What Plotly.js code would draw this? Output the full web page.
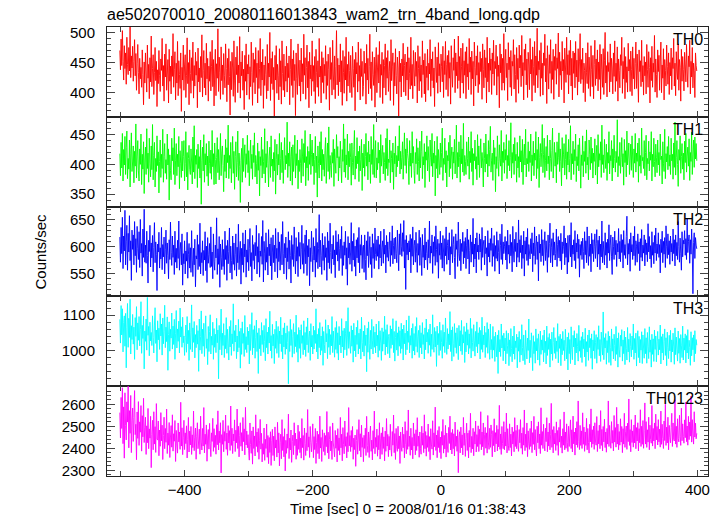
<!DOCTYPE html>
<html>
<head>
<meta charset="utf-8">
<script src="https://cdn.plot.ly/plotly-3.0.1.min.js"></script>
<style>html,body{margin:0;padding:0;background:#fff}#chart{width:724px;height:516px}</style>
</head>
<body>
<div id="chart"></div>
<script>
// ---- data (1 s bins) ----
const tStart = -501;   // time of first bin [sec]
const tStep = 1;       // bin width [sec]
const bandNames = ["TH0", "TH1", "TH2", "TH3", "TH0123"];
const chartTitle = "ae502070010_20080116013843_wam2_trn_4band_long.qdp";
const xTitle = "Time [sec] 0 = 2008/01/16 01:38:43";
const yTitle = "Counts/sec";

const th0 = [
470,438,489,445,503,452,421,478,440,466,414,492,447,430,475,436,510,425,461,441,
477,419,452,488,428,465,404,449,480,433,398,457,423,442,409,471,430,380,451,416,
466,431,401,479,424,447,390,458,418,494,410,440,463,397,433,475,420,452,377,438,
415,470,428,402,456,437,490,411,445,386,464,426,481,404,431,455,383,472,419,444,
398,461,427,498,409,438,468,388,449,416,485,395,453,430,407,466,369,442,421,479,
404,446,463,392,428,491,415,450,380,471,432,399,458,420,484,391,445,411,467,429,
452,375,474,418,441,401,460,425,496,393,437,470,408,449,396,482,423,457,386,444,
419,468,403,443,487,410,455,378,436,472,395,448,424,506,402,459,433,389,476,420,
446,397,465,429,408,481,440,385,457,413,473,427,363,452,405,467,441,394,486,421,
384,459,430,477,400,446,416,493,391,451,428,469,404,439,372,462,419,481,396,447,
431,463,389,443,410,484,433,379,466,417,455,398,475,425,449,383,470,407,440,490,
395,451,421,472,374,446,412,460,430,390,480,403,449,426,500,387,457,415,468,405,
442,358,462,421,478,399,447,428,388,473,410,453,381,486,432,404,464,393,444,419,
477,401,449,425,461,380,439,489,412,456,392,470,420,447,362,466,424,397,481,431,
411,454,386,474,418,448,398,497,429,458,389,442,479,408,452,375,467,423,446,395,
486,419,445,402,460,382,472,433,409,453,394,490,426,444,383,468,417,458,399,447,
428,478,389,452,412,464,438,371,475,422,450,396,487,431,405,461,390,443,503,413,
457,395,446,418,481,401,453,379,470,433,399,460,421,492,386,447,411,468,437,400,
462,426,392,477,440,409,455,370,467,431,450,401,484,419,445,388,473,427,452,394,
410,469,432,449,381,480,421,457,398,443,497,407,451,387,468,430,412,459,376,446,
475,400,441,463,416,485,392,447,429,467,382,455,408,445,481,396,458,424,470,402,
435,452,387,488,420,444,466,379,450,411,473,429,398,459,441,360,469,418,449,393,
456,428,482,401,445,464,395,451,421,476,388,458,432,406,492,412,447,390,470,436,
411,467,427,452,383,478,440,403,460,419,446,392,486,430,454,398,465,385,444,425,
472,404,449,431,488,394,456,420,468,408,441,377,476,446,417,459,399,483,428,448,
401,464,443,418,477,392,453,430,485,405,447,462,394,470,424,450,381,478,436,409,
458,437,489,400,466,428,451,407,494,420,460,391,474,443,416,482,399,453,429,468,
390,476,426,448,405,490,434,459,397,469,423,452,378,484,442,411,461,429,478,400,
450,414,468,435,457,389,481,439,408,471,425,458,383,492,418,449,401,474,437,456,
397,466,431,487,412,452,440,479,396,460,427,446,375,481,433,464,404,457,416,498,
404,451,472,425,449,387,483,438,459,409,470,395,452,444,488,406,463,430,384,475,
422,457,399,479,441,462,410,495,428,450,388,472,437,481,413,456,392,467,446,405,
490,431,455,386,476,443,412,485,400,461,429,507,408,452,438,470,394,483,424,449,
396,466,445,497,418,457,382,478,441,406,463,432,488,399,452,422,472,389,460,437,
481,414,458,440,499,393,467,429,452,405,485,436,455,383,474,446,417,492,430,463,
398,470,429,487,411,457,388,469,432,466,408,485,426,454,396,473,418,451,498,415,
455,422,474,400,449,437,385,466,433,415,483,407,459,431,394,478,439,410,462,390,
447,487,412,456,423,471,403,451,422,480,389,464,438,409,473,397,454,500,416,445,
393,468,435,450,401,481,418,457,441,398,466,427,486,402,449,419,476,386,456,437,
408,463,445,492,399,452,423,475,390,460,417,443,401,482,436,455,402,469,439,395,
476,423,457,406,448,484,407,464,431,384,471,435,453,410,487,418,445,396,460,428,
451,398,480,438,409,468,442,383,458,420,477,409,449,434,495,401,456,430,392,471,
435,462,404,451,484,400,446,424,473,388,455,437,411,479,443,414,466,397,450,428,
474,405,458,440,490,411,449,395,468,436,422,481,404,455,442,386,472,419,460,438,
403,467,446,418,480,436,409,461,443,487,398,452,426,475,408,449,437,392,466,445,
436];

const th1 = [
418,381,437,394,452,372,425,399,447,383,428,456,376,410,392,441,362,419,453,388,
404,431,369,422,397,468,377,414,440,389,372,426,400,451,366,417,392,438,351,409,
429,383,460,393,419,370,444,402,379,431,391,467,374,415,437,362,410,388,448,398,
421,352,405,441,378,417,393,459,370,413,435,385,408,375,451,399,426,340,416,390,
374,444,406,428,383,461,366,407,435,381,417,396,447,359,423,402,378,439,389,413,
440,372,401,455,379,420,357,410,432,392,383,426,404,367,446,387,465,376,415,400,
425,361,434,393,413,377,441,333,407,429,389,450,370,418,399,435,380,414,364,439,
402,385,424,375,457,396,418,366,436,408,367,412,445,386,425,374,406,452,381,419,
431,398,354,416,388,442,377,428,403,466,376,415,393,437,369,409,447,385,422,358,
413,438,379,403,456,373,419,397,336,407,427,370,444,388,414,433,378,418,400,449,
386,423,364,407,441,393,417,375,432,403,453,379,415,401,367,436,390,422,347,413,
398,446,377,425,405,384,460,369,418,395,439,402,362,414,429,378,448,397,409,371,
420,389,442,350,408,434,382,417,399,452,374,410,437,386,424,368,406,445,391,415,
401,471,378,419,397,438,372,413,429,365,433,388,409,449,377,418,398,441,359,407,
388,425,402,369,443,414,380,435,403,457,364,413,394,430,373,422,400,451,383,417,
441,397,419,366,408,447,386,414,345,431,402,377,438,399,455,372,425,391,417,380,
423,445,368,409,436,388,463,375,415,398,378,420,402,442,363,426,404,385,450,411,
430,372,413,394,439,400,369,425,405,468,387,443,378,416,399,451,374,422,396,435,
411,365,436,403,382,425,457,375,414,393,445,401,422,371,431,389,408,442,356,419,
394,434,380,413,452,397,420,374,439,404,417,368,447,400,425,383,467,378,414,440,
377,411,391,437,402,424,369,450,397,416,432,384,420,403,373,444,393,460,381,409,
403,441,369,423,410,387,436,358,419,401,447,379,415,396,431,406,465,384,422,392,
412,438,375,416,453,398,426,385,444,418,407,366,440,397,419,378,455,402,430,390,
368,420,401,443,383,428,405,372,439,394,422,456,376,413,399,435,361,421,407,448,
389,430,406,371,441,412,397,452,379,419,402,439,347,415,393,447,377,425,404,383,
436,395,420,461,373,410,400,444,386,423,362,415,406,437,379,449,393,414,429,375,
421,402,442,384,409,466,377,420,396,438,411,370,449,401,426,387,469,381,415,405,
383,438,410,397,446,375,422,403,455,388,427,365,418,406,441,392,413,374,450,399,
431,378,414,443,394,420,404,362,436,410,387,451,401,417,379,440,397,425,464,387,
407,419,373,441,400,428,354,413,393,448,405,380,433,410,397,457,372,422,403,437,
385,425,407,450,376,415,398,440,389,412,470,377,420,402,434,383,445,406,417,370,
437,394,413,378,448,404,423,387,442,366,414,434,399,459,379,410,401,438,388,422,
403,451,372,416,398,439,381,419,407,455,376,425,393,446,361,412,435,396,420,467,
386,417,444,378,407,430,389,449,401,414,374,441,410,388,423,461,377,404,437,397,
420,369,438,400,411,453,388,426,405,364,445,394,416,435,382,408,450,375,421,399,
442,387,410,465,374,418,401,439,383,425,406,451,371,413,398,433,389,444,409,360,
416,398,448,379,422,405,439,385,458,399,412,374,441,417,391,446,402,427,377,419,
405,443,382,414,432,367,450,396,418,407,438,378,466,400,416,386,442,409,393,434,
373,420,402,455,384,415,406,440,372,426,394,449,410,387,422,403,475,379,413,398,
437,385,411,445,396,418,365,442,403,423,379,456,399,414,436,383,407,434,390,448,
409,378,426,402,452,387,419,405,436,370,444,397,415,385,461,406,412,393,440,381,
420,449,374,410,401,439,389,421,407,455,372,417,396,444,405,379,434,412,386,441,
399,420,381,451,408,414,367,438,402,388,459,376,418,404,430,391,447,397,416,383,
444,406,417,375,436,395,471,382,411,440,400,363,425,407,448,385,413,435,392,419,
374,439,403,452,387,414,429,397,443,373,420,405,454,383,416,441,395,446,409,435,
406];

const th2 = [
618,571,636,587,655,559,620,592,668,566,609,640,556,625,590,658,574,611,537,631,
595,622,566,647,583,615,552,638,597,576,628,561,651,588,606,545,633,580,670,571,
603,569,629,584,532,612,591,640,562,607,579,621,553,598,645,570,609,586,518,605,
590,627,560,598,577,636,557,604,581,618,549,594,631,569,607,584,540,613,576,646,
589,565,620,580,603,548,629,571,597,560,612,578,648,556,594,608,566,624,528,587,
568,611,549,592,573,627,541,586,606,560,598,552,630,575,544,597,566,614,525,583,
577,622,557,604,563,644,549,589,570,611,546,593,575,628,555,601,533,617,569,585,
606,561,637,563,590,540,624,573,556,603,579,654,548,596,567,619,524,605,580,557,
613,563,595,548,629,576,602,537,612,568,591,635,551,601,574,539,620,567,607,556,
586,624,545,599,570,642,557,590,610,530,597,566,626,552,605,581,631,543,594,571,
614,555,596,634,563,589,536,621,574,604,558,608,583,640,549,600,571,625,543,592,
582,619,567,649,534,610,588,556,626,571,599,547,632,583,605,564,617,538,590,622,
570,603,553,634,578,597,542,627,572,609,556,592,623,566,647,588,549,606,579,618,
539,598,572,628,558,612,584,532,621,576,604,563,637,586,549,617,573,600,544,627,
582,608,558,594,640,567,606,550,590,622,568,631,546,602,581,614,527,598,572,629,
586,553,617,575,601,543,634,571,608,559,596,660,562,612,584,548,625,574,603,556,
619,580,598,537,627,570,611,559,644,589,550,605,577,621,566,594,542,630,585,609,
573,623,555,597,614,578,638,546,602,565,609,584,629,558,598,528,619,579,607,567,
590,645,554,610,575,625,563,601,545,613,579,617,570,636,551,604,584,622,559,599,
603,552,622,576,538,611,583,628,561,588,619,567,599,542,624,578,606,559,635,585,
574,613,582,620,558,604,579,629,564,598,611,569,633,586,603,551,621,580,609,573,
595,627,563,611,584,639,568,602,616,577,618,587,570,631,592,555,624,585,643,601,
582,626,591,649,560,613,520,621,585,607,575,611,590,623,551,615,582,637,566,602,
612,571,627,588,552,606,584,631,565,617,590,546,623,580,603,560,635,575,609,587,
557,613,579,648,569,601,588,622,550,609,582,619,565,639,595,571,614,541,606,584,
629,576,607,560,621,590,554,615,583,637,567,602,613,575,626,547,600,586,632,570,
604,619,580,540,624,595,611,563,646,587,574,614,555,606,591,627,568,610,579,617,
559,603,633,577,613,549,593,622,571,609,586,653,562,605,577,616,551,626,590,603,
576,624,590,614,556,636,580,605,612,566,620,587,598,545,630,581,607,571,615,593,
635,563,606,582,621,554,602,578,628,573,612,589,549,624,602,576,642,567,609,587,
601,619,575,610,558,631,586,603,569,623,583,608,553,638,592,571,614,591,627,562,
607,580,650,571,613,589,621,559,603,578,629,545,611,586,618,574,634,565,604,590,
577,615,587,626,553,607,583,637,567,601,620,576,609,536,623,588,605,572,632,583,
613,565,603,628,574,611,588,552,622,580,606,644,570,598,615,562,626,584,609,575,
587,633,563,604,619,579,612,573,625,557,609,587,601,639,566,616,580,607,549,621,
571,605,622,581,645,562,603,586,613,574,630,559,607,590,623,578,614,543,604,584,
610,576,616,591,559,628,585,611,570,637,590,565,620,582,605,553,625,587,613,572,
601,624,578,606,632,562,612,586,620,557,605,581,648,570,610,590,566,626,584,608,
560,614,588,641,574,603,622,581,548,618,600,576,629,585,612,563,606,590,634,577,
610,572,623,589,613,560,630,584,604,578,619,657,566,606,586,614,554,626,590,604,
576,620,583,638,565,611,601,571,624,587,609,555,615,580,632,573,603,588,622,564,
613,585,607,572,643,590,619,577,602,561,628,584,608,568,621,588,635,574,605,587,
626,580,604,551,614,589,629,570,610,586,617,561,639,601,578,624,585,611,567,620,
590,606,573,633,587,613,564,622,583,608,576,647,600,571,616,588,556,628,581,612,
605,630,584,615,576,652,589,610,622,569,613,586,633,590,512,608,626,578,617,603,
596];

const th3 = [
1088,1021,1127,1044,1118,996,1079,1098,1012,1105,951,1064,1133,1009,1091,1037,1145,990,1070,1031,
1102,1018,1066,975,1093,1040,1124,1002,1078,1029,1096,1013,1059,1138,992,1071,1034,1097,948,1055,
1026,1089,1001,1150,1043,1068,985,1080,1027,1051,1014,1098,1036,993,1072,1121,1020,1058,968,1084,
1030,1063,1003,1104,1041,1075,987,1092,1019,1053,1128,1008,1066,1025,1095,944,1045,1081,998,1060,
1035,1106,1004,1069,1017,1088,975,1049,1113,1007,1061,1026,1083,993,1120,1038,1067,1009,1094,1022,
1041,986,1037,1072,995,1096,1019,1057,972,1078,1003,1050,1129,996,1064,1023,1082,979,1045,1008,
1071,1018,1056,941,1089,1001,1039,1112,991,1060,1012,1077,983,1047,1098,1006,1033,960,1068,997,
1053,1101,990,1040,1015,1080,975,1062,1009,1046,994,1091,1022,1058,920,1071,1002,1038,1117,987,
1049,1014,1076,980,1043,1005,1093,992,1060,1021,973,1068,1010,1085,986,1047,1019,1132,998,1056,
1024,1072,977,1041,996,1088,1008,1054,950,1063,989,1081,1020,1048,983,1099,1003,1039,994,1066,
1016,1055,962,1074,1000,1044,1107,988,1059,1007,1070,978,1036,1086,997,1050,935,1063,1005,1043,
985,1079,1017,1057,995,1071,1025,971,1090,1008,1052,990,1066,1021,1111,999,1042,978,1074,1013,
1046,963,1060,1006,1083,992,1038,1068,980,1055,1019,1094,997,1044,976,1064,1010,1078,989,1049,
1004,1070,1023,906,1054,997,1088,1014,1059,981,1040,1076,991,1052,1011,1100,995,1045,967,1065,
1006,1058,978,1073,1020,1042,988,1084,1002,1051,983,1067,1016,1092,994,1039,1055,972,1076,1010,
1043,990,1069,1004,1057,1020,1118,996,1046,976,1062,1008,1079,987,1041,1000,1067,958,1054,1017,
993,1087,1024,1048,977,1072,1009,1060,988,1045,1013,1096,994,1055,1021,981,1065,1003,1082,992,
1050,973,1068,1016,1041,993,1090,1010,1056,979,1063,1002,1047,1083,986,1038,1121,1006,1053,1018,
992,1070,1012,1058,967,1077,999,1043,982,1066,1017,1085,990,1049,1005,1061,976,1094,1023,996,
1055,984,1071,1014,1044,940,1063,995,1081,1019,975,1057,1004,1088,1027,990,1068,1009,1052,993,
1075,1013,1043,981,1083,1000,1056,1021,972,1064,998,1053,1018,1097,987,1059,1010,1073,991,1040,
1046,979,1070,1006,1061,1016,1090,994,1054,970,1036,1084,1001,1050,985,1067,1012,1056,992,1077,
1005,1060,973,1072,1019,1049,988,1086,1002,1055,1023,1098,993,1042,1015,1063,978,1076,999,1048,
987,1068,1011,1093,995,1040,1057,980,1071,1008,1050,990,1079,1017,1045,976,1064,1002,1089,1024,
1051,992,1060,1015,1075,983,1046,1003,1101,1021,995,1065,1010,1054,955,1069,1016,1048,986,1080,
1000,1057,1022,978,1073,1012,1052,994,1092,1025,989,1062,1004,1047,1016,1110,997,1058,970,1067,
1019,983,1076,1008,1050,992,1064,1024,974,1071,1013,1056,998,1085,988,1045,1021,1068,966,1053,
996,1078,1015,1059,990,1047,1006,1091,979,1062,1023,998,1073,1027,984,1054,1011,1081,993,1050,
1018,1065,976,1057,1003,1094,995,1044,1016,1069,980,1051,1009,1079,992,1061,1021,975,1075,1002,
1031,978,1068,1001,1040,969,1052,1010,982,1044,935,1057,996,1031,983,1075,1007,1042,971,1049,
999,1035,962,1056,991,1014,1049,957,1030,983,1062,1005,968,1041,990,1069,975,1027,1008,1046,
951,1038,998,1054,967,1031,987,1073,1009,971,1044,993,960,1057,1013,976,1035,1000,1089,965,
1029,980,1050,1004,943,1042,991,1025,964,1061,999,1034,973,1047,1010,958,1055,989,1030,1001,
1043,968,1058,994,1026,962,1069,986,1037,1003,1048,953,1032,990,1052,972,1023,1065,992,1036,
977,1027,997,1076,965,1040,1006,1046,957,1033,988,1054,1000,1029,971,1060,1011,976,1038,945,
1050,991,1031,963,1067,1002,974,1043,1010,1056,959,1035,993,1048,1012,970,1071,998,1028,980,
1039,966,1052,1005,1032,982,1063,955,1025,996,1044,972,1058,1008,1034,978,1047,947,1030,999,
1056,977,1022,1045,964,1037,1003,1070,985,1031,969,1052,1013,987,1109,974,1036,1007,1048,961,
1028,994,1054,966,1041,1009,958,1061,998,1033,976,1046,1014,971,1068,989,1035,953,1050,1004,
981,1043,1012,1059,970,1030,991,1055,960,1038,1006,973,1065,996,1032,967,1048,1011,982,1041,
1002,1075,975,1034,993,1049,956,1027,1056,980,1040,965,1031,1001,1053,963,1044,1007,978,1062,
991,1036,964,1051,1011,977,1067,995,1030,953,1046,989,1033,969,1058,1003,1041,968,1026,1054,
987,1032,1002,1072,962,1039,993,1047,973,1025,1061,986,1036,957,1052,1008,977,1043,999,1057,
967,1030,996,1049,1010,961,1064,988,1038,1004,970,1055,992,1034,964,1045,1013,980,1069,973,
1035,1001,1047,965,1042,993,1059,976,1029,1009,958,1053,985,1036,1002,1044,968,1056,991,1031,
1015];

const th0123 = [
2562,2447,2631,2490,2675,2421,2588,2355,2652,2503,2438,2611,2519,2683,2402,2571,2468,2640,2380,2527,
2583,2431,2540,2662,2462,2509,2348,2565,2445,2612,2413,2520,2473,2594,2387,2548,2452,2627,2426,2495,
2541,2372,2502,2425,2581,2398,2488,2446,2545,2312,2463,2527,2393,2566,2419,2498,2381,2603,2442,2437,
2524,2366,2483,2409,2562,2434,2505,2349,2457,2541,2398,2490,2427,2578,2376,2469,2414,2517,2358,2451,
2503,2405,2552,2387,2466,2432,2526,2340,2481,2420,2378,2515,2429,2474,2395,2609,2410,2493,2371,2447,
2527,2394,2470,2421,2502,2356,2441,2540,2383,2478,2415,2499,2372,2461,2403,2569,2389,2448,2492,2350,
2455,2516,2398,2433,2487,2373,2546,2428,2392,2490,2410,2585,2379,2464,2418,2506,2341,2451,2485,2396,
2513,2420,2362,2470,2431,2536,2386,2489,2404,2459,2373,2507,2416,2570,2392,2478,2425,2516,2288,2462,
2418,2527,2384,2476,2432,2551,2395,2469,2368,2503,2424,2480,2390,2592,2413,2491,2376,2465,2433,2529,
2385,2482,2425,2578,2399,2500,2361,2457,2516,2409,2471,2388,2540,2430,2488,2370,2586,2415,2478,2402,
2462,2391,2346,2515,2418,2377,2479,2328,2497,2399,2456,2365,2552,2408,2474,2382,2490,2350,2437,2531,
2396,2468,2338,2421,2373,2492,2345,2441,2399,2510,2359,2458,2330,2449,2381,2475,2322,2434,2486,2367,
2455,2343,2497,2401,2438,2360,2518,2379,2470,2320,2427,2464,2352,2530,2390,2453,2361,2489,2297,2436,
2377,2465,2400,2555,2353,2446,2392,2483,2336,2431,2460,2371,2516,2412,2469,2350,2442,2368,2505,2395,
2476,2380,2446,2355,2535,2403,2458,2346,2492,2421,2367,2470,2389,2576,2405,2452,2358,2499,2427,2384,
2438,2511,2357,2453,2394,2490,2331,2427,2478,2376,2463,2352,2546,2401,2449,2340,2484,2419,2385,2470,
2368,2458,2407,2567,2379,2473,2352,2441,2499,2388,2433,2349,2515,2424,2395,2361,2481,2400,2459,2338,
2489,2390,2447,2369,2540,2402,2464,2343,2494,2418,2375,2524,2409,2453,2356,2471,2384,2585,2411,2458,
2385,2481,2405,2499,2350,2446,2394,2460,2318,2436,2485,2373,2442,2530,2389,2466,2360,2505,2404,2448,
2339,2459,2399,2491,2367,2545,2413,2381,2474,2358,2455,2501,2386,2437,2347,2480,2399,2569,2375,2449,
2405,2487,2364,2458,2393,2516,2351,2446,2470,2372,2495,2399,2452,2343,2478,2386,2535,2410,2463,2362,
2454,2392,2509,2403,2364,2476,2414,2551,2380,2467,2349,2490,2407,2386,2500,2398,2456,2331,2474,2405,
2386,2496,2402,2464,2356,2521,2418,2375,2480,2395,2574,2408,2455,2368,2491,2392,2449,2352,2515,2411,
2466,2370,2484,2390,2539,2409,2455,2359,2474,2400,2373,2500,2414,2469,2380,2552,2398,2476,2364,2458,
2404,2510,2385,2453,2348,2489,2419,2396,2525,2369,2470,2407,2587,2390,2460,2357,2481,2403,2499,2381,
2451,2353,2476,2414,2531,2378,2459,2397,2504,2360,2469,2410,2381,2495,2422,2546,2392,2471,2374,2486,
2398,2466,2365,2519,2409,2455,2386,2484,2289,2449,2475,2379,2496,2402,2461,2370,2540,2413,2469,2363,
2445,2514,2390,2469,2356,2481,2405,2559,2380,2454,2397,2491,2366,2475,2419,2524,2383,2462,2408,2502,
2385,2486,2418,2566,2393,2474,2407,2515,2368,2461,2495,2400,2470,2378,2549,2424,2395,2491,2404,2506,
2464,2361,2480,2412,2534,2383,2471,2420,2504,2388,2486,2406,2595,2395,2465,2372,2499,2421,2398,2521,
2393,2474,2410,2560,2379,2489,2414,2390,2511,2403,2464,2365,2496,2419,2475,2384,2539,2408,2481,2398,
2505,2413,2386,2485,2425,2530,2400,2469,2373,2494,2414,2574,2389,2464,2404,2515,2362,2479,2420,2395,
2490,2408,2524,2380,2471,2418,2545,2393,2485,2403,2365,2500,2425,2520,2398,2465,2376,2584,2414,2476,
2399,2509,2419,2388,2491,2430,2539,2384,2474,2410,2514,2393,2461,2604,2404,2484,2379,2499,2419,2469,
2390,2520,2413,2481,2368,2495,2428,2531,2403,2455,2378,2489,2414,2565,2393,2474,2400,2511,2425,2385,
2500,2408,2469,2529,2399,2484,2383,2546,2420,2474,2369,2492,2415,2521,2404,2615,2430,2394,2504,2413,
2479,2399,2561,2418,2496,2386,2474,2413,2536,2393,2490,2425,2378,2509,2429,2579,2404,2484,2419,2501,
2395,2516,2433,2414,2544,2385,2480,2420,2505,2398,2571,2413,2486,2388,2499,2429,2532,2403,2474,2382,
2490,2419,2615,2408,2504,2433,2400,2521,2423,2481,2388,2549,2428,2494,2405,2586,2419,2510,2393,2476,
2414,2534,2428,2499,2380,2489,2419,2559,2404,2475,2501,2395,2514,2430,2624,2413,2485,2384,2530,2426,
2479,2405,2506,2424,2551,2398,2494,2433,2516,2388,2489,2425,2575,2408,2500,2418,2526,2400,2481,2606,
2419,2521,2404,2484,2428,2541,2393,2505,2440,2423,2594,2410,2490,2433,2515,2398,2555,2438,2499,2415,
2530,2429,2487,2405,2569,2418,2509,2444,2399,2524,2435,2600,2413,2496,2424,2541,2393,2504,2449,2425,
2494,2559,2408,2515,2440,2433,2621,2419,2500,2404,2534,2445,2429,2550,2453,2413,2582,2434,2511,2454,
2423,2529,2448,2610,2430,2501,2414,2545,2439,2519,2455,2637,2428,2530,2460,2419,2566,2451,2514,2443,
2468];

const xTickVals = [-400, -200, 0, 200, 400];
const yTickVals = [[400, 450, 500], [350, 400, 450], [550, 600, 650], [1000, 1100], [2300, 2400, 2500, 2600]];

// ---- styling ----
const series = [th0, th1, th2, th3, th0123];
const colors = ["#ff0000", "#00ff00", "#0000ff", "#00ffff", "#ff00ff"];
const yRanges = [[360, 509], [329, 480], [507, 675], [899, 1153], [2274, 2682]];
const yMinor = [10, 10, 10, 20, 20];
const xRange = [-521, 416.5];
const FONT = "Liberation Sans, Arial, Helvetica, sans-serif";
const n = series.length;

const traces = [];
const layout = {
  width: 724, height: 516,
  margin: {l: 107, r: 16, t: 27, b: 40},
  paper_bgcolor: "#fff", plot_bgcolor: "#fff",
  showlegend: false,
  font: {family: FONT, size: 15, color: "#000"},
  title: {text: chartTitle, x: 107/724, xanchor: "left", xref: "container",
          y: 1 - 14/516, yanchor: "middle", yref: "container",
          font: {family: FONT, size: 16, color: "#000"}},
  annotations: []
};

for (let i = 0; i < n; i++) {
  const s = i === 0 ? "" : String(i + 1);
  const times = series[i].map((_, k) => tStart + k * tStep);
  traces.push({
    x: times, y: series[i], type: "scatter", mode: "lines",
    xaxis: "x" + s, yaxis: "y" + s, cliponaxis: true,
    line: {color: colors[i], width: 0.9, simplify: false}, hoverinfo: "skip"
  });
  const top = 1 - i / n, bot = 1 - (i + 1) / n;
  layout["yaxis" + s] = {
    domain: [bot, top], range: yRanges[i], anchor: "x" + s,
    tickvals: yTickVals[i], ticks: "inside", ticklen: 8, tickwidth: 1, tickcolor: "#444",
    minor: {dtick: yMinor[i], ticks: "inside", ticklen: 4, tickcolor: "#444", tickwidth: 1, showgrid: false},
    showline: true, linecolor: "#222", linewidth: 1, mirror: "ticks",
    showgrid: false, zeroline: false, ticklabelstandoff: 8,
    tickfont: {family: FONT, size: 15, color: "#000"}
  };
  layout["xaxis" + s] = {
    domain: [0, 1], range: xRange, anchor: "y" + s,
    tickvals: xTickVals, ticks: "inside", ticklen: 6, tickwidth: 1, tickcolor: "#444",
    minor: {dtick: 100, tick0: 0, ticks: "inside", ticklen: 5, tickcolor: "#444", tickwidth: 1, showgrid: false},
    showline: true, linecolor: "#222", linewidth: 1, mirror: "ticks",
    showgrid: false, zeroline: false,
    showticklabels: i === n - 1, ticklabelstandoff: 0,
    tickfont: {family: FONT, size: 15, color: "#000"}
  };
  layout.annotations.push({
    text: bandNames[i], xref: "paper", x: 1, xanchor: "right", xshift: -3,
    yref: "y" + s + " domain", y: 1, yanchor: "top", yshift: -2,
    showarrow: false, font: {family: FONT, size: 16, color: "#000"}
  });
}

layout.annotations.push({
  text: yTitle, xref: "paper", x: 0, xshift: -67, xanchor: "center",
  yref: "paper", y: 0.5, yanchor: "middle", textangle: -90,
  showarrow: false, font: {family: FONT, size: 15, color: "#000"}
});
layout.annotations.push({
  text: xTitle, xref: "paper", x: 0.5, xanchor: "center",
  yref: "paper", y: 0, yanchor: "middle", yshift: -32,
  showarrow: false, font: {family: FONT, size: 15, color: "#000"}
});

Plotly.newPlot("chart", traces, layout, {staticPlot: true, displayModeBar: false});
</script>
</body>
</html>
